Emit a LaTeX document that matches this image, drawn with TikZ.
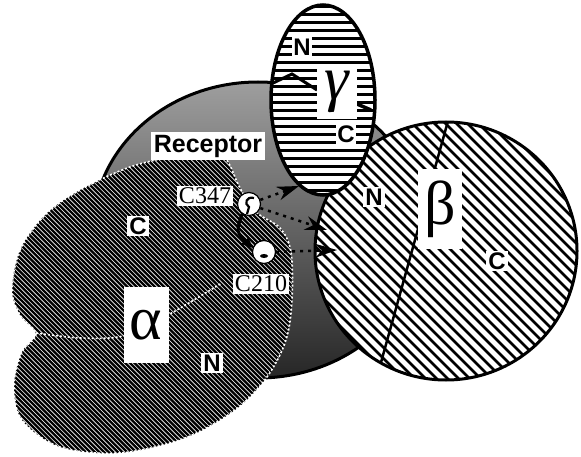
\documentclass[tikz,border=0pt]{standalone}
\usepackage{fontspec}
\setmainfont{Liberation Serif}
\setsansfont{Liberation Sans}
\usetikzlibrary{arrows.meta,calc}

% outline of the alpha subunit (two lobes, C above, N below)
\newcommand{\alphaoutline}{plot[smooth cycle, tension=0.55] coordinates {
  (12,290) (20,250) (45,215) (80,190) (130,167) (180,155) (215,151)
  (228,162) (240,188) (256,212) (280,228) (291,252) (292,300) (286,340)
  (267,377) (235,410) (185,438) (120,453) (60,447) (22,420) (14,385)
  (22,352) (36,334) (20,315)}}

\begin{document}
\begin{tikzpicture}[x=1pt,y=-1pt,
  outline/.style={line width=3pt,black},
  hatchline/.style={line width=2.6pt,black},
  lbl/.style={font=\sffamily\bfseries\fontsize{24}{24}\selectfont, fill=white, inner sep=2pt},
  res/.style={font=\fontsize{24}{24}\selectfont, fill=white, inner sep=1.5pt},
  greek/.style={font=\fontsize{62}{62}\selectfont, fill=white, inner sep=0pt},
  site/.style={circle, fill=white, draw=black, line width=1.2pt, minimum size=23pt, inner sep=0pt},
  bond/.style={line width=3pt, -{Stealth[length=12pt,width=11pt]}},
  contact/.style={line width=2.5pt, dash pattern=on 3pt off 5pt, -{Stealth[length=22pt,width=14pt]}},
  whitedots/.style={white, line width=1.6pt, dash pattern=on 2pt off 2pt}
]
\useasboundingbox (0,0) rectangle (581,457);

% ---- receptor (stippled grey body) ----
\path[top color=black!38, bottom color=black!85, draw=black, line width=3pt]
  (258,230) ellipse [x radius=165, y radius=148];

% ---- alpha subunit: black with fine white diagonal lines ----
\begin{scope}
  \clip \alphaoutline;
  \fill[black] (0,140) rectangle (300,460);
  \foreach \k in {0,...,160}
    \draw[white, line width=0.6pt] (\k*4.6-330,140) -- ++(330,330);
\end{scope}
\draw[whitedots] \alphaoutline;
\draw[whitedots] plot[smooth] coordinates {(36,333) (80,338) (123,336) (168,315) (222,283)};

% ---- beta subunit ----
\begin{scope}
  \clip (446,251) ellipse [x radius=131, y radius=129];
  \fill[white] (300,110) rectangle (590,390);
  \foreach \k in {0,...,52}
    \draw[hatchline] (\k*11+25,110) -- ++(290,290);
  \draw[line width=2.5pt] (448,121) -- (380,366);
\end{scope}
\draw[outline] (446,251) ellipse [x radius=131, y radius=129];

% ---- gamma subunit ----
\begin{scope}
  \clip (323,100) ellipse [x radius=52, y radius=95];
  \fill[white] (260,0) rectangle (390,200);
  \foreach \k in {0,...,24}
    \draw[line width=3pt] (260,\k*8+7) -- (390,\k*8+7);
\end{scope}
\draw[line width=3pt] (271,84) -- (292,74) -- (317,90);
\draw[line width=3.5pt] (357,104) -- (371,110);
\draw[line width=3.5pt] (323,100) ellipse [x radius=52, y radius=95];

% ---- labels ----
\node[lbl, font=\sffamily\bfseries\fontsize{25}{25}\selectfont, inner sep=3pt] (receptor) at (208,146) {Receptor};
\node[lbl] (aC) at (138,226) {C};
\node[lbl] (aN) at (212,363) {N};
\node[greek, minimum width=45pt, minimum height=76pt] (alpha) at (146,325) {α};
\node[lbl] (bN) at (374,197) {N};
\node[lbl] (bC) at (497,261) {C};
\node[greek, minimum width=44pt, minimum height=80pt] (beta) at (440,209) {β};
\node[lbl, inner sep=1.5pt] (gN) at (302,47) {N};
\node[greek, font=\itshape\fontsize{62}{62}\selectfont, minimum width=40pt, minimum height=55pt] (gamma) at (337,92) {γ};
\node[lbl, inner sep=1.5pt] (gC) at (346,134) {C};

% ---- cysteine sites and contacts ----
\node[site] (s347) at (249,204) {};
\node[site] (s210) at (264,252) {};
\draw[line width=2.2pt] (254,198) .. controls (246,196) and (244,204) .. (249,207) -- (247,214);
\fill[black] (264,256) ellipse [x radius=4, y radius=2];

\node[res] (l347) at (205,196) {C347};
\node[res] (l210) at (261,284) {C210};

\coordinate (gtip) at (299,186);
\coordinate (btipA) at (327,230);
\coordinate (btipB) at (337,250);

\draw[contact] (s347.20) -- (gtip);
\draw[contact] (s347.-20) -- (btipA);
\draw[contact] (s210.east) -- (btipB);
\draw[bond] (s347.235) .. controls (236,232) .. (s210.160);
\end{tikzpicture}
\end{document}
